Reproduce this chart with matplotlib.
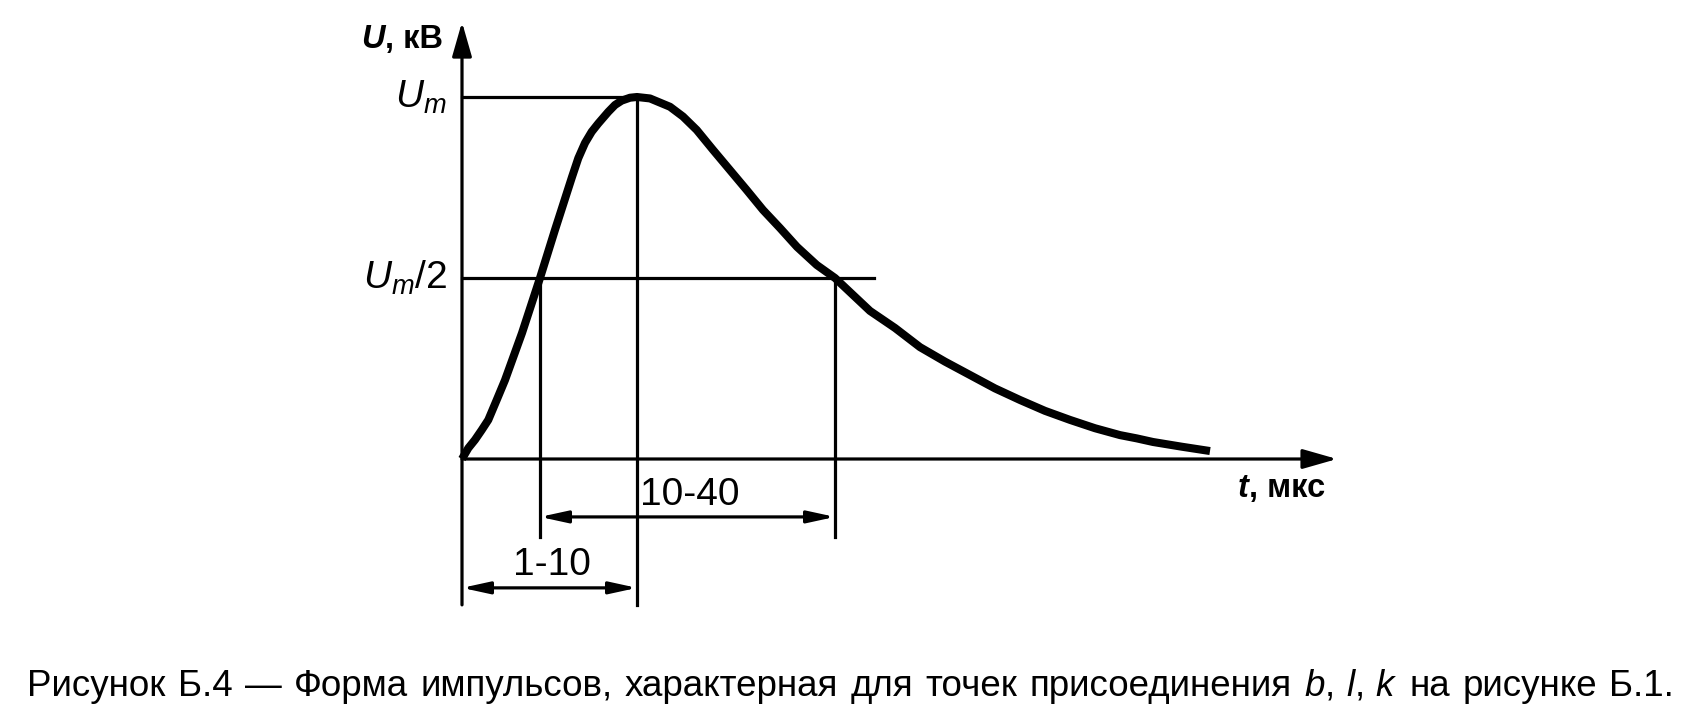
import matplotlib as mpl

mpl.use("Agg")
import matplotlib.pyplot as plt

plt.rcParams['font.family'] = ['Liberation Sans', 'DejaVu Sans']
plt.rcParams['mathtext.fontset'] = 'custom'
plt.rcParams['mathtext.rm'] = 'Liberation Sans'
plt.rcParams['mathtext.it'] = 'Liberation Sans:italic'

# pulse shape, t in arbitrary units, U as fraction of Um
t_curve = [0, 0.63, 1.3, 1.97, 2.63, 3.47, 4.3, 6.0, 7.8, 9.3, 11.0, 11.63,
           12.3, 12.97, 13.63, 14.63, 15.3, 15.97, 16.8, 17.5, 18.8, 20.8,
           22.1, 23.47, 25.1, 26.8, 28.47, 30.1, 31.8, 33.5, 35.47, 37.3,
           40.8, 43.3, 45.8, 48.3, 50.8, 53.3, 55.8, 58.3, 60.8, 63.3, 65.8,
           67.47, 69.1, 71.97, 74.8]
u_curve = [0, 0.030, 0.053, 0.080, 0.108, 0.163, 0.218, 0.348, 0.5, 0.633,
           0.779, 0.831, 0.873, 0.904, 0.927, 0.959, 0.978, 0.990, 0.998, 1.0,
           0.996, 0.973, 0.946, 0.909, 0.854, 0.798, 0.743, 0.688, 0.638,
           0.586, 0.536, 0.5, 0.409, 0.362, 0.309, 0.269, 0.232, 0.195, 0.163,
           0.133, 0.108, 0.085, 0.066, 0.057, 0.047, 0.034, 0.022]

t_rise = 7.8     # curve crosses Um/2 on the front
t_peak = 17.5    # Um
t_fall = 37.3    # curve crosses Um/2 on the tail
t_axis_end = 87.5
u_axis_top = 1.207
u_axis_bottom = -0.403
half_line_end = 41.2

dim_labels = ["1-10", "10-40"]
u_dim = [-0.356, -0.16]
u_ext_short = -0.215

caption_words = ["Рисунок", "Б.4", "—", "Форма", "импульсов,", "характерная",
                 "для", "точек", "присоединения", "$b$,", "$l$,", "$k$", "на",
                 "рисунке", "Б.1."]

fig = plt.figure(figsize=(16.88, 7.15), dpi=100)
ax = fig.add_axes([0, 0, 1, 1])
ax.set_xlim(-46.2, 122.6)
ax.set_ylim((459 - 715) / 362, 459 / 362)
ax.axis('off')

lw = 2.3
ax.plot(t_curve, u_curve, color='black', lw=5.8, solid_capstyle='butt',
        solid_joinstyle='round')

# axes with arrows
ax.annotate('', xy=(t_axis_end, 0), xytext=(0, 0),
            arrowprops=dict(arrowstyle='-|>,head_length=2.1,head_width=0.6',
                            mutation_scale=10, lw=lw, color='black',
                            shrinkA=0, shrinkB=0))
ax.annotate('', xy=(0, u_axis_top), xytext=(0, u_axis_bottom),
            arrowprops=dict(arrowstyle='-|>,head_length=2.1,head_width=0.6',
                            mutation_scale=10, lw=lw, color='black',
                            shrinkA=0, shrinkB=0))

# guide lines
ax.plot([0, t_peak], [1, 1], color='black', lw=lw)
ax.plot([0, half_line_end], [0.5, 0.5], color='black', lw=lw)
ax.plot([t_peak, t_peak], [1, u_axis_bottom], color='black', lw=lw)
ax.plot([t_rise, t_rise], [0.5, u_ext_short], color='black', lw=lw)
ax.plot([t_fall, t_fall], [0.5, u_ext_short], color='black', lw=lw)

# dimension arrows
dims = [(0, t_peak), (t_rise, t_fall)]
for (a, b), u in zip(dims, u_dim):
    ax.annotate('', xy=(b, u), xytext=(a, u),
                arrowprops=dict(arrowstyle='<|-|>,head_length=1.65,head_width=0.36',
                                mutation_scale=10, lw=lw, color='black',
                                shrinkA=0, shrinkB=0))
ax.text(8.95, -0.293, dim_labels[0], fontsize=28, ha='center', va='center')
ax.text(22.8, -0.099, dim_labels[1], fontsize=28, ha='center', va='center')

# labels
ax.text(-1.5, 1.0, '$U_m$', fontsize=28, ha='right', va='center')
ax.text(-1.5, 0.5, '$U_m$/2', fontsize=28, ha='right', va='center')

# axis names: bold italic symbol + bold units
for sym, unit, x, y in [("U", ", кВ", -1.9, 1.135), ("t", ", мкс", 86.3, -0.105)]:
    tu = ax.text(x, y, unit, fontsize=23.5, fontweight='bold', ha='right',
                 va='baseline')
    ax.annotate(sym, xy=(0, 0), xycoords=tu, fontsize=23.5, fontweight='bold',
                fontstyle='italic', ha='right', va='bottom')

# caption, spread to the justified width of the original
fig.canvas.draw()
renderer = fig.canvas.get_renderer()
x0, x1, y_base = 27, 1674, 715 - 696
pieces = []
for w in caption_words:
    pieces.append(fig.text(0, y_base / 715, w, fontsize=26.5, ha='left',
                           va='baseline'))
widths = [p.get_window_extent(renderer).width for p in pieces]
gap = (x1 - x0 - sum(widths)) / (len(pieces) - 1)
x = x0
for p, wd in zip(pieces, widths):
    p.set_x(x / 1688)
    x += wd + gap

fig.savefig('out.png', dpi=100)
